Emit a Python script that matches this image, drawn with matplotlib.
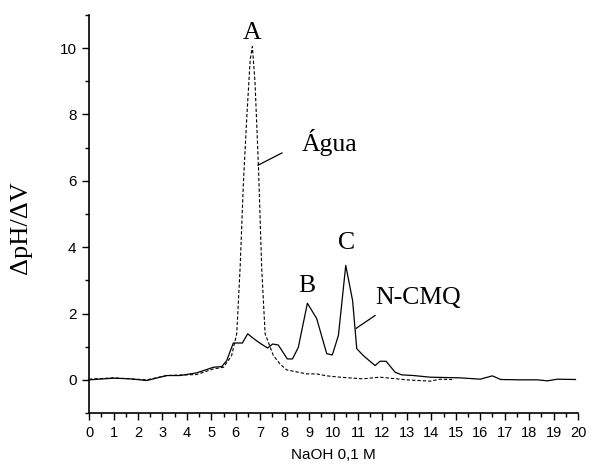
import matplotlib
matplotlib.use("Agg")
import matplotlib.pyplot as plt
from matplotlib.ticker import MultipleLocator

# Agua (dashed)
agua_x = [0, 1.0, 2.36, 3.18, 4.4, 5.09, 5.5, 5.83, 6.04, 6.18, 6.31, 6.45, 6.59, 6.68,
          6.79, 6.93, 7.06, 7.2, 7.54, 7.81, 8.08, 8.9, 9.3, 9.72, 10.27, 11.2, 11.9,
          13.0, 13.95, 14.36, 14.85]
agua_y = [0.02, 0.06, 0.0, 0.13, 0.16, 0.33, 0.38, 0.73, 1.39, 3.4, 5.9, 7.9, 9.65, 10.05,
          8.94, 6.4, 3.4, 1.39, 0.73, 0.48, 0.3, 0.18, 0.18, 0.12, 0.08, 0.03, 0.08,
          0.0, -0.04, 0.02, 0.01]

# N-CMQ (solid)
ncmq_x = [0, 1.0, 1.68, 2.36, 3.18, 3.72, 4.4, 5.09, 5.43, 5.63, 5.9, 6.27, 6.49, 6.65,
          7.0, 7.3, 7.51, 7.74, 8.11, 8.32, 8.56, 8.93, 9.31, 9.72, 9.95, 10.2, 10.5,
          10.78, 10.95, 11.22, 11.7, 11.9, 12.15, 12.52, 12.79, 13.27, 13.95, 15.18,
          16.0, 16.5, 16.84, 17.66, 18.34, 18.75, 19.16, 19.9]
ncmq_y = [0.0, 0.05, 0.03, -0.02, 0.13, 0.13, 0.21, 0.38, 0.4, 0.58, 1.11, 1.11, 1.39, 1.29,
          1.1, 0.96, 1.08, 1.05, 0.63, 0.63, 0.98, 2.31, 1.85, 0.79, 0.75, 1.34, 3.45,
          2.39, 0.94, 0.73, 0.43, 0.56, 0.56, 0.23, 0.15, 0.13, 0.08, 0.06,
          0.02, 0.12, 0.01, 0.0, 0.0, -0.03, 0.02, 0.01]

serif = "Liberation Serif"
sans = "Liberation Sans"

fig = plt.figure(figsize=(5.94, 4.68), dpi=100)
ax = fig.add_axes([0.15, 0.1175, 0.823, 0.8505])

ax.plot(agua_x, agua_y, color="black", lw=0.8, linestyle=(0, (3, 1.8)))
ax.plot(ncmq_x, ncmq_y, color="black", lw=0.9)

ax.set_xlim(0, 20)
ax.set_ylim(-1, 11)
ax.xaxis.set_major_locator(MultipleLocator(1))
ax.xaxis.set_minor_locator(MultipleLocator(0.5))
ax.yaxis.set_major_locator(MultipleLocator(2))
ax.yaxis.set_minor_locator(MultipleLocator(1))
ax.set_yticks([0, 2, 4, 6, 8, 10])

for s in ["top", "right"]:
    ax.spines[s].set_visible(False)
for s in ["left", "bottom"]:
    ax.spines[s].set_linewidth(1.2)

ax.tick_params(which="major", direction="out", length=5, width=1, pad=4)
ax.tick_params(which="minor", direction="out", length=3, width=1)
ax.tick_params(axis="x", labelsize=10.5)
ax.tick_params(axis="y", labelsize=11)
for lab in ax.get_xticklabels() + ax.get_yticklabels():
    lab.set_family(sans)

ax.set_xlabel("NaOH 0,1 M", family=sans, fontsize=11, labelpad=6)
ax.set_ylabel("ΔpH/ΔV", family=serif, fontsize=19)
ax.yaxis.set_label_coords(-0.117, 0.467)

# peak labels
fs = 18.5
ax.text(6.67, 10.46, "A", family=serif, fontsize=fs, ha="center", va="center")
ax.text(8.92, 2.82, "B", family=serif, fontsize=fs, ha="center", va="center")
ax.text(10.55, 4.12, "C", family=serif, fontsize=fs, ha="center", va="center")
ax.text(9.85, 7.17, "Água", family=serif, fontsize=fs, ha="center", va="center")
ax.text(13.46, 2.46, "N-CMQ", family=serif, fontsize=fs, ha="center", va="center")
ax.plot([6.91, 7.89], [6.47, 6.84], color="black", lw=0.9)
ax.plot([10.92, 11.7], [1.55, 1.94], color="black", lw=0.9)

fig.savefig("out.png", dpi=100)
